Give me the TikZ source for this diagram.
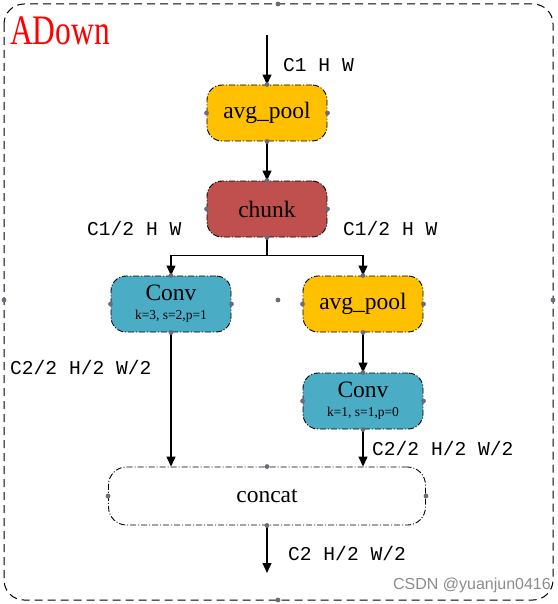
\documentclass[tikz,border=0pt]{standalone}
\usepackage{fontspec}
\setmainfont{Liberation Serif}
\newfontfamily\monof{Liberation Mono}
\newfontfamily\sansf{Liberation Sans}
\usetikzlibrary{arrows.meta}
\definecolor{poolc}{HTML}{FFC000}
\definecolor{chunkc}{HTML}{C0504D}
\definecolor{convc}{HTML}{4BACC6}
\definecolor{dotc}{HTML}{6B6B7B}
\begin{document}
\begin{tikzpicture}[x=1pt,y=-1pt,
  blk/.style={draw=black, line width=0.9pt, dash pattern=on 6pt off 2pt on 1pt off 2pt, rounded corners=15pt, minimum width=120pt, minimum height=56pt, inner sep=0pt, font=\fontsize{23.5}{25}\selectfont, align=center},
  conn/.style={line width=1.2pt, -{Triangle[width=9pt,length=10pt]}},
  lbl/.style={font=\monof\fontsize{19.6}{22}\selectfont, anchor=base west, inner sep=0pt},
  small/.style={font=\fontsize{12}{12}\selectfont}
]
\useasboundingbox (0,0) rectangle (557,604);
\draw[line width=1pt, dash pattern=on 8pt off 5pt, rounded corners=20pt] (4,4) rectangle (553,600);
\node[anchor=base west, inner sep=0pt, text=red, font=\fontsize{42}{44}\selectfont] (title) at (10,45) {\scalebox{0.75}[1]{ADown}};

\node[blk, fill=poolc] (ap1) at (267,113) {avg\_pool};
\node[blk, fill=chunkc] (ch) at (267,209) {chunk};
\node[blk, fill=convc] (cv1) at (171,304) {Conv\\[-6pt]{\fontsize{13.5}{13.5}\selectfont k=3, s=2,p=1}};
\node[blk, fill=poolc] (ap2) at (363,304) {avg\_pool};
\node[blk, fill=convc] (cv2) at (363,401) {Conv\\[-6pt]{\fontsize{13.5}{13.5}\selectfont k=1, s=1,p=0}};
\node[blk, fill=white, minimum width=317pt, minimum height=58pt, rounded corners=18pt] (cc) at (267,496) {concat};

\coordinate (in) at (267,35);
\coordinate (out) at (267,573);
\draw[conn] (in) -- (ap1.north);
\draw[conn] (ap1.south) -- (ch.north);
\draw[line width=1.2pt] (ch.south) -- ++(0,18) coordinate (sp);
\draw[conn] (sp) -| (cv1.north);
\draw[conn] (sp) -| (ap2.north);
\draw[conn] (ap2.south) -- (cv2.north);
\draw[conn] (cv1.south) -- (cv1.south |- cc.north);
\draw[conn] (cv2.south) -- (cv2.south |- cc.north);
\draw[conn] (cc.south) -- (out);

\node[lbl] (l1) at (283,72) {C1 H W};
\node[lbl] (l2) at (87,235) {C1/2 H W};
\node[lbl] (l3) at (343,235) {C1/2 H W};
\node[lbl] (l4) at (10,374) {C2/2 H/2 W/2};
\node[lbl] (l5) at (372,455) {C2/2 H/2 W/2};
\node[lbl] (l6) at (288,560) {C2 H/2 W/2};

\foreach \n in {ap1,ch,cv1,ap2,cv2,cc}{
  \foreach \a in {north,south,east,west}{
    \fill[dotc] (\n.\a) circle (2.4pt);
  }
}
\foreach \p in {(278,4),(4,300),(553,300),(278,600),(278,300)}{
  \fill[dotc] \p circle (2.4pt);
}
\node[anchor=base east, inner sep=0pt, text=black!45, font=\sansf\fontsize{16}{16}\selectfont] (wm) at (551,589) {CSDN @yuanjun0416};
\end{tikzpicture}
\end{document}
